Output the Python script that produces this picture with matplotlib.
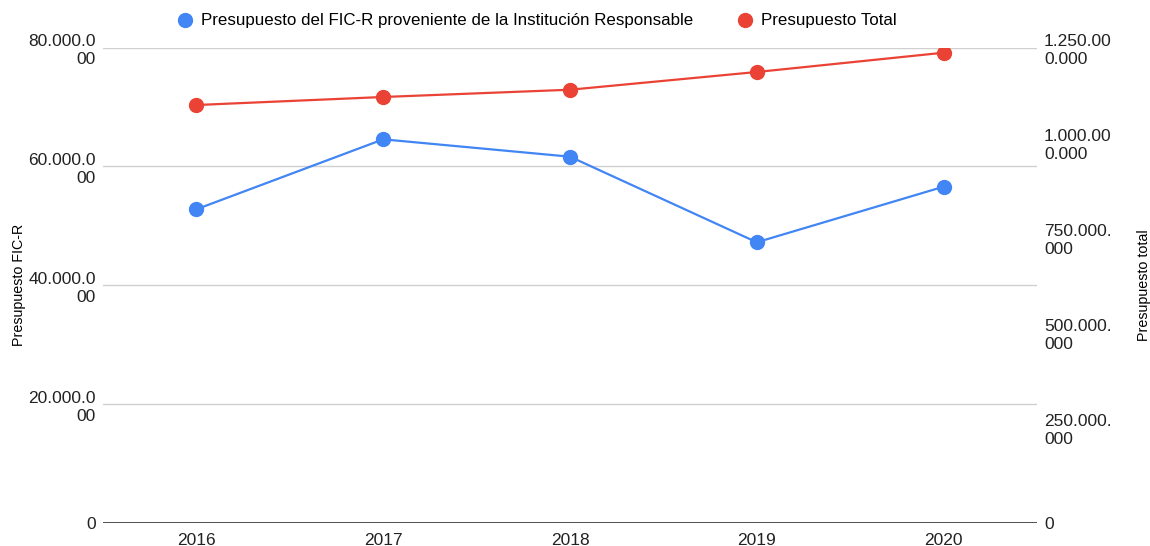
import matplotlib.pyplot as plt
from matplotlib.ticker import FuncFormatter, MultipleLocator

plt.rcParams['font.family'] = ['Liberation Sans', 'DejaVu Sans']

# Data
years = ["2016", "2017", "2018", "2019", "2020"]
fic_r = [52_780_000, 64_550_000, 61_630_000, 47_230_000, 56_580_000]
total = [1_098_800_000, 1_119_900_000, 1_139_000_000, 1_185_600_000, 1_236_300_000]

label_fic = "Presupuesto del FIC-R proveniente de la Institución Responsable"
label_total = "Presupuesto Total"

blue = "#4285F4"
red = "#EA4335"


def es_fmt(v, pos):
    # thousands with dots, wrapped every 8 chars like the original
    s = f"{int(round(v)):,}".replace(",", ".")
    return "\n".join(s[i:i + 8] for i in range(0, len(s), 8))


fig = plt.figure(figsize=(11.5, 5.46), dpi=100)
ax = fig.add_axes([103 / 1150, 23 / 546, 934 / 1150, 475.5 / 546])
ax2 = ax.twinx()

x = range(len(years))
ax.plot(x, fic_r, color=blue, lw=1.6, marker="o", ms=10, label=label_fic, zorder=3)
ax2.plot(x, total, color=red, lw=1.6, marker="o", ms=10, label=label_total, zorder=3)

ax.set_xlim(-0.5, 4.5)
ax.set_ylim(0, 80_000_000)
ax2.set_ylim(0, 1_250_000_000)
ax.yaxis.set_major_locator(MultipleLocator(20_000_000))
ax2.yaxis.set_major_locator(MultipleLocator(250_000_000))
ax.yaxis.set_major_formatter(FuncFormatter(es_fmt))
ax2.yaxis.set_major_formatter(FuncFormatter(es_fmt))

ax.set_xticks(list(x))
ax.set_xticklabels(years)

for a in (ax, ax2):
    for s in a.spines.values():
        s.set_visible(False)
    a.tick_params(length=0, labelsize=12.5, colors="#222222")
ax.tick_params(axis="y", pad=5)
ax2.tick_params(axis="y", pad=5)
ax.tick_params(axis="x", pad=7)
for t in ax.get_yticklabels() + ax2.get_yticklabels():
    t.set_linespacing(1.25)

ax.grid(axis="y", color="#d0d0d0", lw=1)
ax.set_axisbelow(True)
ax.axhline(0, color="#333333", lw=1.2, zorder=2)

ax.set_ylabel("Presupuesto FIC-R", fontsize=10.3)
ax2.set_ylabel("Presupuesto total", fontsize=10.3)
ax.yaxis.set_label_coords(-0.0824, 0.5)
ax2.yaxis.set_label_coords(1.107, 0.5)

h1, l1 = ax.get_legend_handles_labels()
h2, l2 = ax2.get_legend_handles_labels()
leg = fig.legend(h1 + h2, l1 + l2, loc="center", bbox_to_anchor=(537 / 1150, 1 - 21 / 546),
                 ncol=2, frameon=False, fontsize=12.2, handlelength=0.9, handletextpad=0.5,
                 columnspacing=2.6)
for h in leg.legend_handles:
    h.set_linestyle("None")

fig.savefig("out.png", dpi=100)
